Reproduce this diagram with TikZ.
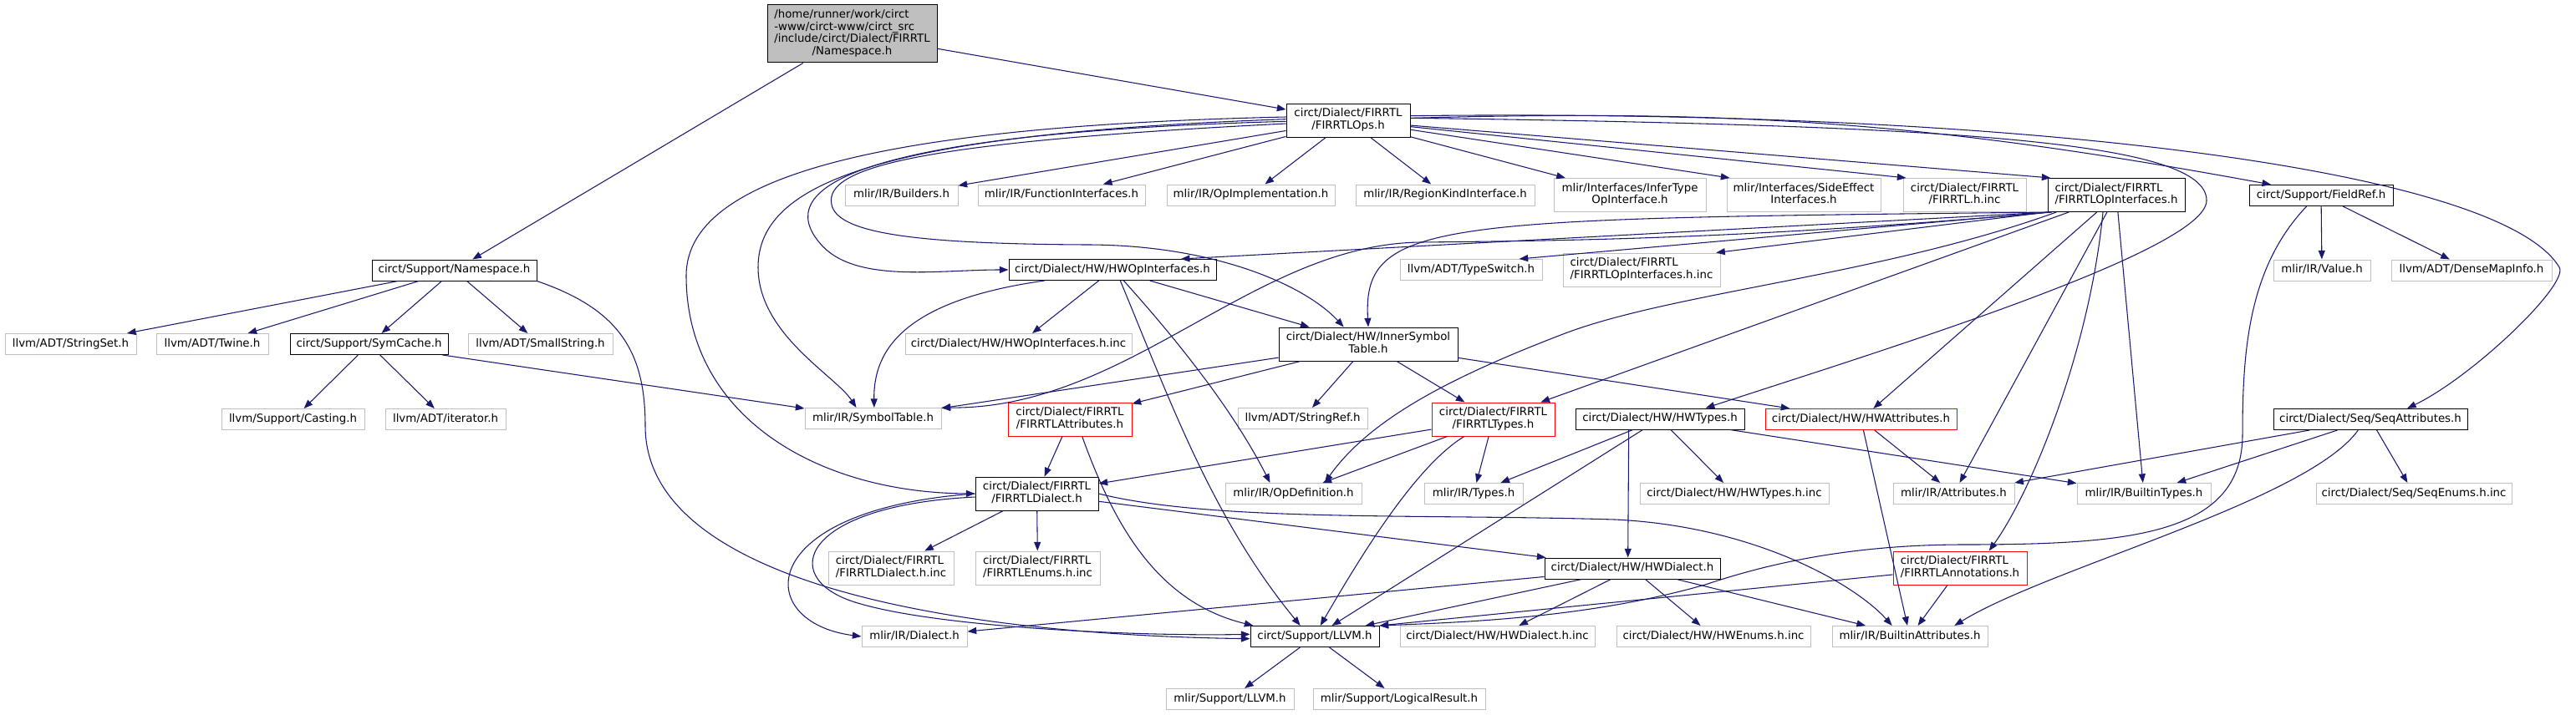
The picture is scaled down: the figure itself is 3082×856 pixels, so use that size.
\documentclass[tikz,border=0pt]{standalone}
\usepackage{fontspec}
\setmainfont{DejaVu Sans}
\usetikzlibrary{calc, arrows.meta}

\definecolor{edgeblue}{HTML}{191970}
\definecolor{boxgray}{HTML}{BFBFBF}
% 多行标签：前几行左对齐，最后一行居中
\newcommand{\flab}[2]{\begin{tabular}{@{}l@{}}#1\\\multicolumn{1}{@{}c@{}}{#2}\end{tabular}}

\begin{document}
\begin{tikzpicture}[x=0.75pt, y=-0.75pt,
  file/.style={draw=boxgray, fill=white, line width=0.75pt, inner sep=0pt,
    minimum height=18.75pt, text height=7.5pt, text depth=2.5pt,
    font=\fontsize{10pt}{11pt}\selectfont},
  known/.style={file, draw=black},
  cut/.style={file, draw=red},
  two/.style={minimum height=30pt},
  wd/.style={minimum width={#1*0.75pt}},
  dep/.style={draw=edgeblue, line width=0.8pt, -{Triangle[length=8pt,width=6pt]}}]
  \useasboundingbox (0,0) rectangle (3082,856);
  % 根文件
  \node[known, fill=boxgray, wd=203, minimum height=51.75pt] (root) at (1019.5,40.5)
    {\flab{/home/runner/work/circt\\-www/circt-www/circt\_src\\/include/circt/Dialect/FIRRTL}{/Namespace.h}};
  \node[known, two, wd=148] (ops) at (1613,144) {\flab{circt/Dialect/FIRRTL}{/FIRRTLOps.h}};
  % 第二层
  \node[file, wd=135] (builders) at (1078.5,233.5) {mlir/IR/Builders.h};
  \node[file, wd=200] (funcif) at (1270,233.5) {mlir/IR/FunctionInterfaces.h};
  \node[file, wd=201] (opimpl) at (1496.5,233.5) {mlir/IR/OpImplementation.h};
  \node[file, wd=214] (regionkind) at (1729,233.5) {mlir/IR/RegionKindInterface.h};
  \node[file, two, wd=182] (infertype) at (1950,233.5) {\flab{mlir/Interfaces/InferType}{OpInterface.h}};
  \node[file, two, wd=184] (sideeffect) at (2158,233.5) {\flab{mlir/Interfaces/SideEffect}{Interfaces.h}};
  \node[file, two, wd=147] (firinc) at (2350.5,233.5) {\flab{circt/Dialect/FIRRTL}{/FIRRTL.h.inc}};
  \node[known, two, wd=164] (opif) at (2532,233.5) {\flab{circt/Dialect/FIRRTL}{/FIRRTLOpInterfaces.h}};
  \node[known, wd=172] (fieldref) at (2777,234) {circt/Support/FieldRef.h};
  % 第三层
  \node[known, wd=197] (ns) at (543.5,323.5) {circt/Support/Namespace.h};
  \node[known, wd=248] (hwopif) at (1331,323) {circt/Dialect/HW/HWOpInterfaces.h};
  \node[file, wd=170] (typeswitch) at (1760,323) {llvm/ADT/TypeSwitch.h};
  \node[file, two, wd=188] (opifinc) at (1964,323) {\flab{circt/Dialect/FIRRTL}{/FIRRTLOpInterfaces.h.inc}};
  \node[file, wd=116] (value) at (2778,323.5) {mlir/IR/Value.h};
  \node[file, wd=192] (densemap) at (2957,323.5) {llvm/ADT/DenseMapInfo.h};
  % 第四层
  \node[file, wd=157] (strset) at (84.5,412) {llvm/ADT/StringSet.h};
  \node[file, wd=134] (twine) at (254,412) {llvm/ADT/Twine.h};
  \node[known, wd=189] (symcache) at (441.5,412) {circt/Support/SymCache.h};
  \node[file, wd=173] (smallstr) at (646.5,412) {llvm/ADT/SmallString.h};
  \node[file, wd=271] (hwopifinc) at (1218.5,412) {circt/Dialect/HW/HWOpInterfaces.h.inc};
  \node[known, two, wd=214] (innersym) at (1637,412) {\flab{circt/Dialect/HW/InnerSymbol}{Table.h}};
  % 第五层
  \node[file, wd=171] (casting) at (350.5,502) {llvm/Support/Casting.h};
  \node[file, wd=144] (iterator) at (533,502) {llvm/ADT/iterator.h};
  \node[file, wd=163] (symtab) at (1044.5,501) {mlir/IR/SymbolTable.h};
  \node[cut, two, wd=148] (firattr) at (1280,502) {\flab{circt/Dialect/FIRRTL}{/FIRRTLAttributes.h}};
  \node[file, wd=155] (strref) at (1558.5,501) {llvm/ADT/StringRef.h};
  \node[cut, two, wd=147] (firtypes) at (1786.5,502) {\flab{circt/Dialect/FIRRTL}{/FIRRTLTypes.h}};
  \node[known, wd=202] (hwtypes) at (1986,501.5) {circt/Dialect/HW/HWTypes.h};
  \node[cut, wd=229] (hwattr) at (2226.5,502) {circt/Dialect/HW/HWAttributes.h};
  \node[known, wd=232] (seqattr) at (2836,502) {circt/Dialect/Seq/SeqAttributes.h};
  % 第六层
  \node[known, two, wd=147] (firdialect) at (1240.5,591) {\flab{circt/Dialect/FIRRTL}{/FIRRTLDialect.h}};
  \node[file, wd=163] (opdef) at (1547.5,591) {mlir/IR/OpDefinition.h};
  \node[file, wd=118] (types) at (1763,591) {mlir/IR/Types.h};
  \node[file, wd=226] (hwtypesinc) at (2075,591) {circt/Dialect/HW/HWTypes.h.inc};
  \node[file, wd=145] (attrs) at (2337.5,591) {mlir/IR/Attributes.h};
  \node[file, wd=160] (bltypes) at (2565,591) {mlir/IR/BuiltinTypes.h};
  \node[file, wd=234] (seqenums) at (2888,591) {circt/Dialect/Seq/SeqEnums.h.inc};
  % 第七层
  \node[file, two, wd=150] (firdialectinc) at (1066,680) {\flab{circt/Dialect/FIRRTL}{/FIRRTLDialect.h.inc}};
  \node[file, two, wd=149] (firenums) at (1241.5,680) {\flab{circt/Dialect/FIRRTL}{/FIRRTLEnums.h.inc}};
  \node[known, wd=210] (hwdialect) at (1953,680.5) {circt/Dialect/HW/HWDialect.h};
  \node[cut, two, wd=160] (firanno) at (2345,680) {\flab{circt/Dialect/FIRRTL}{/FIRRTLAnnotations.h}};
  % 第八、九层
  \node[file, wd=126] (dialect) at (1094,762) {mlir/IR/Dialect.h};
  \node[known, wd=154] (llvm) at (1573,762) {circt/Support/LLVM.h};
  \node[file, wd=233] (hwdialectinc) at (1791.5,762) {circt/Dialect/HW/HWDialect.h.inc};
  \node[file, wd=232] (hwenums) at (2050,762) {circt/Dialect/HW/HWEnums.h.inc};
  \node[file, wd=186] (blattrs) at (2285,762) {mlir/IR/BuiltinAttributes.h};
  \node[file, wd=153] (mlirllvm) at (1471.5,837) {mlir/Support/LLVM.h};
  \node[file, wd=206] (logres) at (1674,837) {mlir/Support/LogicalResult.h};

  % 直线依赖
  \foreach \src/\dst in {root/ns, root/ops, ns/strset, ns/twine, ns/symcache, ns/smallstr,
      symcache/casting, symcache/iterator, symcache/symtab, ops/builders, ops/funcif,
      ops/opimpl, ops/regionkind, ops/infertype, fieldref/value, fieldref/densemap,
      hwopif/hwopifinc, hwopif/innersym, innersym/symtab, innersym/firattr, innersym/strref,
      innersym/firtypes, innersym/hwattr, firattr/firdialect, firtypes/firdialect,
      firtypes/opdef, firtypes/types, hwtypes/types, hwtypes/hwtypesinc, hwtypes/bltypes,
      hwtypes/llvm, hwattr/attrs, hwattr/blattrs, seqattr/attrs, seqattr/bltypes,
      seqattr/seqenums, opif/firtypes, opif/hwattr, opif/attrs, opif/bltypes,
      firdialect/firdialectinc, firdialect/firenums, firdialect/hwdialect, hwdialect/dialect,
      hwdialect/llvm, hwdialect/hwdialectinc, hwdialect/hwenums, hwdialect/blattrs,
      firanno/blattrs, llvm/mlirllvm, llvm/logres}
    \draw[dep] (\src) -- (\dst);
  \draw[dep] (firanno) -- (llvm.north east);

  % FIRRTLOps.h 向右上方一行
  \draw[dep] (ops) -- ([xshift=3pt]sideeffect.north west);
  \draw[dep] (ops) -- ([xshift=3pt]firinc.north west);
  \draw[dep] (ops) -- ([xshift=3pt]opif.north west);
  \draw[dep] (ops) to[bend left=6] ([xshift=20pt]fieldref.north west);
  \draw[dep] ([yshift=2pt]ops.east) .. controls (2350,150) and (2640,170) .. (2640,240)
    .. controls (2640,300) and (2250,420) .. ([xshift=41pt]hwtypes.north);
  \draw[dep] ([yshift=4pt]ops.east) .. controls (2400,130) and (2990,200) .. (3062,320)
    .. controls (3074,340) and (2960,450) .. ([xshift=33pt]seqattr.north);
  % FIRRTLOps.h 向左绕行
  \draw[dep] ([yshift=3pt]ops.west) .. controls (1100,150) and (821,200) .. (821,330)
    .. controls (821,500) and (980,590) .. (firdialect.west);
  \draw[dep] ([yshift=1pt]ops.west) .. controls (1050,160) and (907,220) .. (907,320)
    .. controls (907,400) and (1000,450) .. ([xshift=-15pt]symtab.north);
  \draw[dep] ([yshift=-1pt]ops.west) .. controls (1000,160) and (930,230) .. (980,290)
    .. controls (1020,340) and (1120,323) .. (hwopif.west);
  \draw[dep] ([yshift=-3pt]ops.west) .. controls (1100,170) and (985,200) .. (995,245)
    .. controls (1002,280) and (1100,292) .. (1300,293)
    .. controls (1450,293) and (1560,340) .. ([xshift=-22pt]innersym.north);

  % Namespace.h -> LLVM.h
  \draw[dep] (ns.south east) .. controls (740,370) and (772,420) .. (772,510)
    .. controls (772,700) and (1150,760) .. ([yshift=-2pt]llvm.west);

  % HWOpInterfaces.h
  \draw[dep] ([xshift=-61pt]hwopif.south) .. controls (1080,360) and (1045,420) .. ([xshift=1pt]symtab.north);
  \draw[dep] ([xshift=7pt]hwopif.south) .. controls (1400,480) and (1450,620) .. ([xshift=-13pt]llvm.north);
  \draw[dep] ([xshift=10pt]hwopif.south) .. controls (1420,420) and (1480,500) .. ([xshift=-21pt]opdef.north);

  % FIRRTLOpInterfaces.h 从左下角出发
  \draw[dep] ([xshift=2pt]opif.south west) -- ([xshift=-32pt]hwopif.north east);
  \draw[dep] ([xshift=1pt]opif.south west) -- ([xshift=-21pt]typeswitch.north east);
  \draw[dep] (opif.south west) -- ([xshift=-4pt]opifinc.north east);
  \draw[dep] ([xshift=3pt]opif.south west) .. controls (1720,262) and (1630,262) .. (innersym.north);
  \draw[dep] ([xshift=4pt]opif.south west) .. controls (2100,285) and (1900,288) .. (1700,290)
    .. controls (1500,292) and (1350,490) .. (symtab.north east);
  \draw[dep] ([xshift=8pt]opif.south west) .. controls (2250,330) and (2000,350) .. (1870,400)
    .. controls (1740,450) and (1640,500) .. ([xshift=28pt]opdef.north);
  \draw[dep] ([xshift=-12pt]opif.south) .. controls (2500,420) and (2430,590) .. ([xshift=26pt]firanno.north);

  % FieldRef.h -> LLVM.h
  \draw[dep] ([xshift=-13pt]fieldref.south) .. controls (2690,320) and (2683,420) .. (2683,520)
    .. controls (2683,640) and (2550,652) .. (2350,652)
    .. controls (2200,652) and (2100,680) .. (2040,700)
    .. controls (1900,740) and (1750,745) .. (llvm.north east);

  % 其余弯曲的依赖
  \draw[dep] ([xshift=11pt]firattr.south) .. controls (1330,620) and (1380,720) .. ([xshift=3pt]llvm.north west);
  \draw[dep] ([xshift=-26pt]firtypes.south) .. controls (1690,560) and (1620,680) .. ([xshift=5pt]llvm.north);
  \draw[dep] ([xshift=-28pt]hwtypes.south) -- ([xshift=-4pt]hwdialect.north);
  \draw[dep] ([xshift=-11pt]seqattr.south) .. controls (2760,600) and (2450,680) .. ([xshift=40pt]blattrs.north);
  \draw[dep] (firdialect.west) .. controls (900,610) and (900,745) .. (dialect.west);
  \draw[dep] ([yshift=-3pt]firdialect.west) .. controls (960,605) and (930,690) .. (1020,720)
    .. controls (1110,750) and (1350,762) .. ([yshift=2pt]llvm.west);
  \draw[dep] (firdialect.east) .. controls (1450,625) and (1700,615) .. (1932,622)
    .. controls (2100,630) and (2220,700) .. ([xshift=-16pt]blattrs.north);
\end{tikzpicture}
\end{document}
